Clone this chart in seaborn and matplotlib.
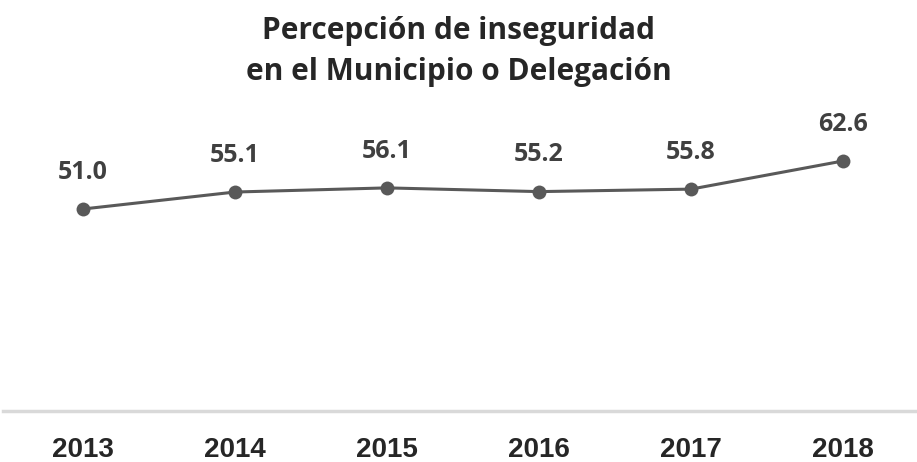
import matplotlib
matplotlib.use("Agg")
import matplotlib.pyplot as plt
import seaborn as sns
import pandas as pd

years = ["2013", "2014", "2015", "2016", "2017", "2018"]
values = [51.0, 55.1, 56.1, 55.2, 55.8, 62.6]
title = "Percepción de inseguridad\nen el Municipio o Delegación"

df = pd.DataFrame({"year": years, "value": values})

sns.set_theme(style="white")
plt.rcParams['font.family'] = ['Open Sans', 'DejaVu Sans']

W, H = 917, 462
fig = plt.figure(figsize=(W / 100, H / 100), dpi=100)
ax_left, ax_right = 3, 917
ax_bottom_px, ax_top_px = 411, 130
ax = fig.add_axes([ax_left / W, (H - ax_bottom_px) / H,
                   (ax_right - ax_left) / W, (ax_bottom_px - ax_top_px) / H])

sns.lineplot(data=df, x="year", y="value", ax=ax, color="#595959",
             linewidth=2.2, marker="o", markersize=10, markeredgewidth=0,
             sort=False)

px_per_unit = 4.14
y0 = 51.0 - (ax_bottom_px - 209) / px_per_unit
y1 = y0 + (ax_bottom_px - ax_top_px) / px_per_unit
ax.set_ylim(y0, y1)
ax.set_xlim(-(83 - ax_left) / 152, 5 + (ax_right - 843) / 152)

for i, v in enumerate(values):
    ax.annotate(f"{v:.1f}", (i, v), xytext=(0, 26.5), textcoords="offset points",
                ha="center", va="center", fontsize=18, fontweight="bold",
                color="#404040")

for s in ["top", "left", "right"]:
    ax.spines[s].set_visible(False)
ax.spines["bottom"].set_color("#d9d9d9")
ax.spines["bottom"].set_linewidth(2.5)
ax.set_yticks([])
ax.set_xlabel("")
ax.set_ylabel("")
ax.tick_params(axis="x", length=0, pad=19)
for lab in ax.get_xticklabels():
    lab.set_fontfamily(["Liberation Sans", "DejaVu Sans"])
    lab.set_fontweight("bold")
    lab.set_fontsize(20)
    lab.set_color("#262626")

fig.text(0.5, 1 - 51.5 / H, title, ha="center", va="center", fontsize=21.5,
         fontweight="bold", color="#262626", linespacing=1.5)

fig.savefig("out.png", dpi=100)
